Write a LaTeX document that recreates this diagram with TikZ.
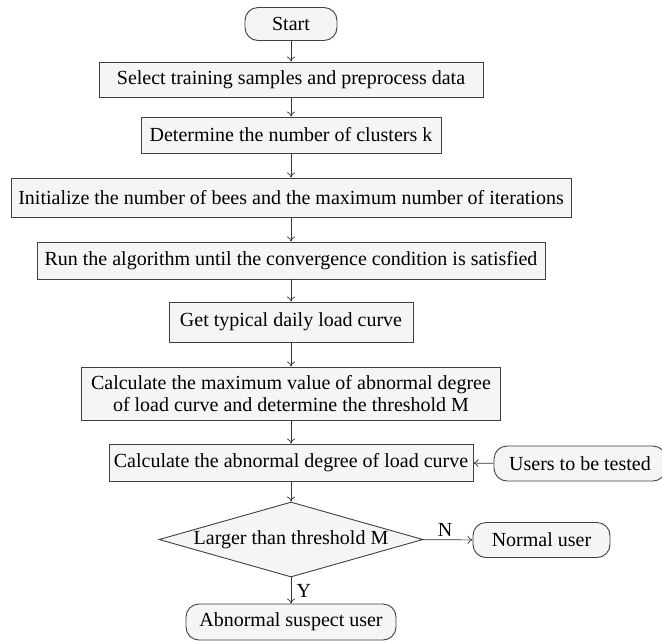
\documentclass[tikz,border=0pt]{standalone}
\usepackage{fontspec}
\setmainfont{Liberation Serif}
\usetikzlibrary{shapes.geometric,arrows.meta}
\tikzset{
  termbox/.style={rectangle,rounded corners=13pt,draw=black!75,line width=0.9pt,fill=black!4,minimum height=34pt,inner sep=2pt},
  procbox/.style={rectangle,draw=black!75,line width=0.9pt,fill=black!4,minimum height=36pt,inner sep=2pt},
  decbox/.style={diamond,draw=black!75,line width=0.9pt,fill=black!4,aspect=3.5,inner sep=0pt,minimum width=264pt,minimum height=75pt},
  flow/.style={-{To[length=5pt,width=8pt]},line width=0.7pt,draw=black!80},
}
\begin{document}
\begin{tikzpicture}[x=1pt,y=-1pt,font=\fontsize{20}{22}\selectfont]
\fill[white] (0,0) rectangle (662,641);
\useasboundingbox (0,0) rectangle (662,641);
\node[termbox,minimum width=92pt,minimum height=33pt] (start) at (291,24) {Start};
\node[procbox,minimum width=384pt,minimum height=35pt] (sel) at (291,79.5) {Select training samples and preprocess data};
\node[procbox,minimum width=300pt] (clus) at (291,135) {Determine the number of clusters k};
\node[procbox,minimum width=560pt,minimum height=39pt] (init) at (291,197.5) {Initialize the number of bees and the maximum number of iterations};
\node[procbox,minimum width=508pt,minimum height=37pt] (run) at (291,260.5) {Run the algorithm until the convergence condition is satisfied};
\node[procbox,minimum width=244pt,minimum height=40pt] (curve) at (291,322) {Get typical daily load curve};
\node[procbox,minimum width=419pt,minimum height=53pt,align=center] (thres) at (291,393.5) {Calculate the maximum value of abnormal degree\\of load curve and determine the threshold M};
\node[procbox,minimum width=364pt,minimum height=37pt] (degree) at (291,462.5) {Calculate the abnormal degree of load curve};
\node[termbox,minimum width=172pt,minimum height=35pt] (users) at (580,463.5) {Users to be tested};
\node[decbox] (larger) at (291,539.5) {Larger than threshold M};
\node[termbox,minimum width=137pt,minimum height=35pt] (normal) at (541.5,540) {Normal user};
\node[termbox,minimum width=210pt,minimum height=36pt] (abnormal) at (291,622) {Abnormal suspect user};
\draw[flow] (start) -- (sel);
\draw[flow] (sel) -- (clus);
\draw[flow] (clus) -- (init);
\draw[flow] (init) -- (run);
\draw[flow] (run) -- (curve);
\draw[flow] (curve) -- (thres);
\draw[flow] (thres) -- (degree);
\draw[flow] (users) -- (degree);
\draw[flow] (degree) -- (larger);
\draw[flow] (larger) -- node[pos=0.45,above]{N} (normal);
\draw[flow] (larger) -- node[right,xshift=2pt]{Y} (abnormal);
\end{tikzpicture}
\end{document}
